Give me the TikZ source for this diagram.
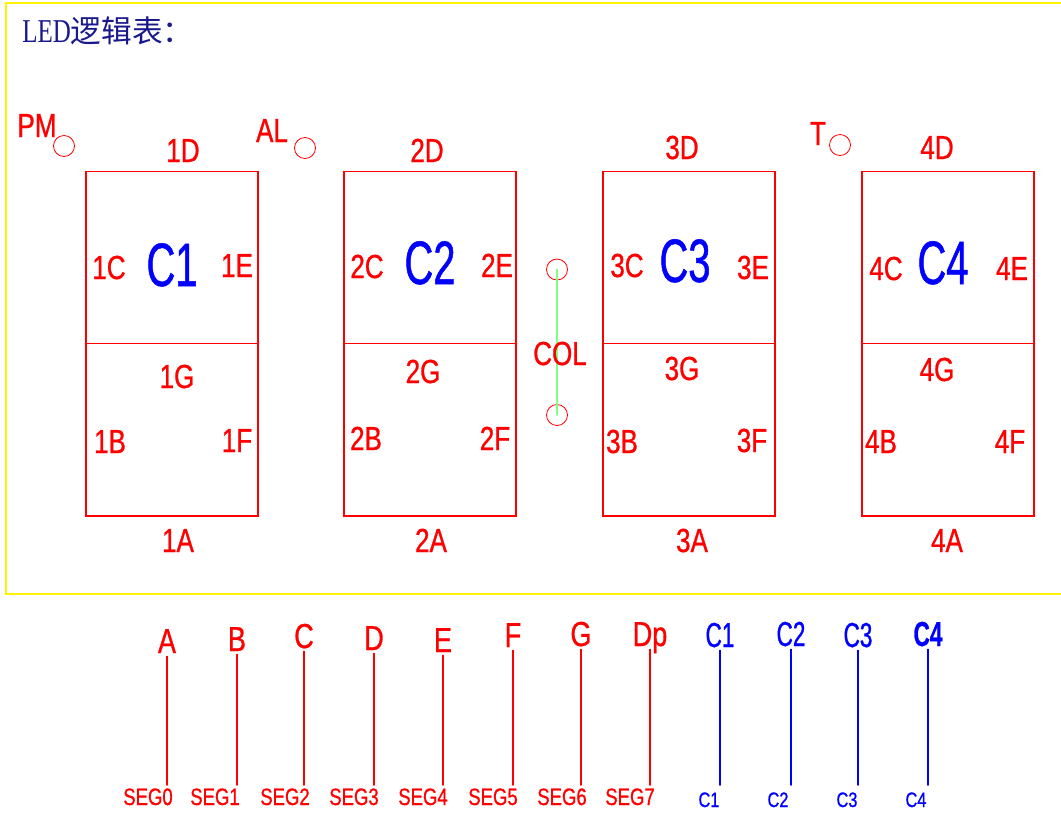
\documentclass[tikz,border=0pt]{standalone}
\usepackage{fontspec}
\usepackage{tikz}
\setmainfont{Liberation Serif}
\newfontfamily\segfont[FakeStretch=0.78,FakeBold=0.8]{Liberation Sans}
\newfontfamily\digitfont[FakeStretch=0.65,FakeBold=0.8]{Liberation Sans}
\newfontfamily\titlefont[FakeStretch=0.75]{Liberation Serif}
\newfontfamily\cjkfont{Noto Sans CJK SC}

\begin{document}
\begin{tikzpicture}
		[x=0.75pt,y=-0.75pt,line cap=round,
		%Styles
		seg label/.style={text=red,font=\segfont\fontsize{25}{25}\selectfont,anchor=base,inner sep=0pt},
		digit name/.style={text=blue,font=\digitfont\fontsize{46}{46}\selectfont,anchor=base,inner sep=0pt},
		digit box/.style={draw=red,line width=0.8pt,minimum width=129pt,minimum height=258.4pt,inner sep=0pt},
		dot/.style={circle,draw=red,line width=0.6pt,minimum size=15.75pt,inner sep=0pt},
		pin name/.style={font=\segfont\fontsize{26}{26}\selectfont,anchor=base,text depth=0pt,inner sep=2.25pt},
		net name/.style={font=\segfont\fontsize{17.8}{18}\selectfont,anchor=base,inner sep=2.25pt},
		pin line/.style={line width=0.8pt}
		]
		
		%Colors
		\colorlet{framecolor}{yellow}
		\colorlet{colcolor}{green!50}
		\definecolor{titleblue}{RGB}{25,25,140}
		
		\useasboundingbox (0,0) rectangle (1061,815);
		\draw[framecolor,line width=1.5pt] (1070,2.5) -- (5.5,2.5) -- (5.5,594) -- (1070,594);
		
		\node[anchor=base west,inner sep=0pt,text=titleblue] (title) at (22,42)
			{\titlefont\fontsize{25}{25}\selectfont LED\cjkfont\fontsize{23}{23}\selectfont 逻辑表：};
		
		%The graphic
		\node[seg label] (pm) at (37,137) {PM};
		\node[dot] (pmDot) at (64,146) {};
		\node[seg label] (al) at (272,142) {AL};
		\node[dot] (alDot) at (305,148) {};
		\node[seg label] (t) at (818,145) {T};
		\node[dot] (tDot) at (840,145) {};
		
		% digit 1
		\node[digit box] (d1) at (172,343.75) {};
		\draw[red,line width=0.8pt] (d1.west) -- (d1.east);
		\node[seg label] (d1D) at (183,162) {1D};
		\node[seg label] (d1C) at (109,279) {1C};
		\node[digit name] (d1N) at (172,286) {C1};
		\node[seg label] (d1E) at (237,277) {1E};
		\node[seg label] (d1G) at (177,388) {1G};
		\node[seg label] (d1B) at (110,453) {1B};
		\node[seg label] (d1F) at (237,452) {1F};
		\node[seg label] (d1A) at (178,552) {1A};
		
		% digit 2
		\node[digit box] (d2) at (430,343.75) {};
		\draw[red,line width=0.8pt] (d2.west) -- (d2.east);
		\node[seg label] (d2D) at (427,162) {2D};
		\node[seg label] (d2C) at (367,278) {2C};
		\node[digit name] (d2N) at (430,284) {C2};
		\node[seg label] (d2E) at (497,277) {2E};
		\node[seg label] (d2G) at (423,383) {2G};
		\node[seg label] (d2B) at (366,450) {2B};
		\node[seg label] (d2F) at (495,450) {2F};
		\node[seg label] (d2A) at (431,552) {2A};
		
		% colon
		\node[dot] (colTop) at (557,269.5) {};
		\node[dot] (colBot) at (557,415) {};
		\draw[colcolor,line width=1.2pt] (colTop.center) -- (colBot.center);
		\node[seg label] (col) at (560,365) {COL};
		
		% digit 3
		\node[digit box] (d3) at (689,343.75) {};
		\draw[red,line width=0.8pt] (d3.west) -- (d3.east);
		\node[seg label] (d3D) at (682,159) {3D};
		\node[seg label] (d3C) at (627,277) {3C};
		\node[digit name] (d3N) at (685,282) {C3};
		\node[seg label] (d3E) at (753,279) {3E};
		\node[seg label] (d3G) at (682,380) {3G};
		\node[seg label] (d3B) at (622,453) {3B};
		\node[seg label] (d3F) at (752,452) {3F};
		\node[seg label] (d3A) at (692,552) {3A};
		
		% digit 4
		\node[digit box] (d4) at (948,343.75) {};
		\draw[red,line width=0.8pt] (d4.west) -- (d4.east);
		\node[seg label] (d4D) at (937,159) {4D};
		\node[seg label] (d4C) at (886,280) {4C};
		\node[digit name] (d4N) at (943,284) {C4};
		\node[seg label] (d4E) at (1012,280) {4E};
		\node[seg label] (d4G) at (937,381) {4G};
		\node[seg label] (d4B) at (881,453) {4B};
		\node[seg label] (d4F) at (1010,453) {4F};
		\node[seg label] (d4A) at (947,552) {4A};
		
		%Pins
		\node[pin name,text=red] (pA) at (167,653) {A};
		\node[pin name,text=red] (pB) at (237,651) {B};
		\node[pin name,text=red] (pC) at (304,648) {C};
		\node[pin name,text=red] (pD) at (374,650) {D};
		\node[pin name,text=red] (pE) at (443,652) {E};
		\node[pin name,text=red] (pF) at (513,647) {F};
		\node[pin name,text=red] (pG) at (581,646) {G};
		\node[pin name,text=red] (pDp) at (650,646) {Dp};
		\node[pin name,text=blue,font=\digitfont\fontsize{26}{26}\selectfont] (pC1) at (720,647) {C1};
		\node[pin name,text=blue,font=\digitfont\fontsize{26}{26}\selectfont] (pC2) at (791,646) {C2};
		\node[pin name,text=blue,font=\digitfont\fontsize{26}{26}\selectfont] (pC3) at (858,647) {C3};
		\node[pin name,text=blue,font=\digitfont\fontsize{26}{26}\selectfont\bfseries] (pC4) at (928,646) {C4};
		
		\node[net name,text=red] (sA) at (148,805) {SEG0};
		\node[net name,text=red] (sB) at (215,805) {SEG1};
		\node[net name,text=red] (sC) at (285,805) {SEG2};
		\node[net name,text=red] (sD) at (354,805) {SEG3};
		\node[net name,text=red] (sE) at (423,805) {SEG4};
		\node[net name,text=red] (sF) at (493,805) {SEG5};
		\node[net name,text=red] (sG) at (562,805) {SEG6};
		\node[net name,text=red] (sDp) at (630,805) {SEG7};
		\node[net name,text=blue,font=\segfont\fontsize{15.7}{16}\selectfont] (sC1) at (709,807) {C1};
		\node[net name,text=blue,font=\segfont\fontsize{15.7}{16}\selectfont] (sC2) at (778,807) {C2};
		\node[net name,text=blue,font=\segfont\fontsize{15.7}{16}\selectfont] (sC3) at (847,807) {C3};
		\node[net name,text=blue,font=\segfont\fontsize{15.7}{16}\selectfont] (sC4) at (916,807) {C4};
		
		\draw[red,pin line] (pA.south) -- (pA.south |- sA.north);
		\draw[red,pin line] (pB.south) -- (pB.south |- sB.north);
		\draw[red,pin line] (pC.south) -- (pC.south |- sC.north);
		\draw[red,pin line] (pD.south) -- (pD.south |- sD.north);
		\draw[red,pin line] (pE.south) -- (pE.south |- sE.north);
		\draw[red,pin line] (pF.south) -- (pF.south |- sF.north);
		\draw[red,pin line] (pG.south) -- (pG.south |- sG.north);
		\draw[red,pin line] (pDp.south) -- (pDp.south |- sDp.north);
		\draw[blue,pin line] (pC1.south) -- (pC1.south |- sA.north);
		\draw[blue,pin line] (pC2.south) -- (pC2.south |- sA.north);
		\draw[blue,pin line] (pC3.south) -- (pC3.south |- sA.north);
		\draw[blue,pin line] (pC4.south) -- (pC4.south |- sA.north);
	\end{tikzpicture}
\end{document}
